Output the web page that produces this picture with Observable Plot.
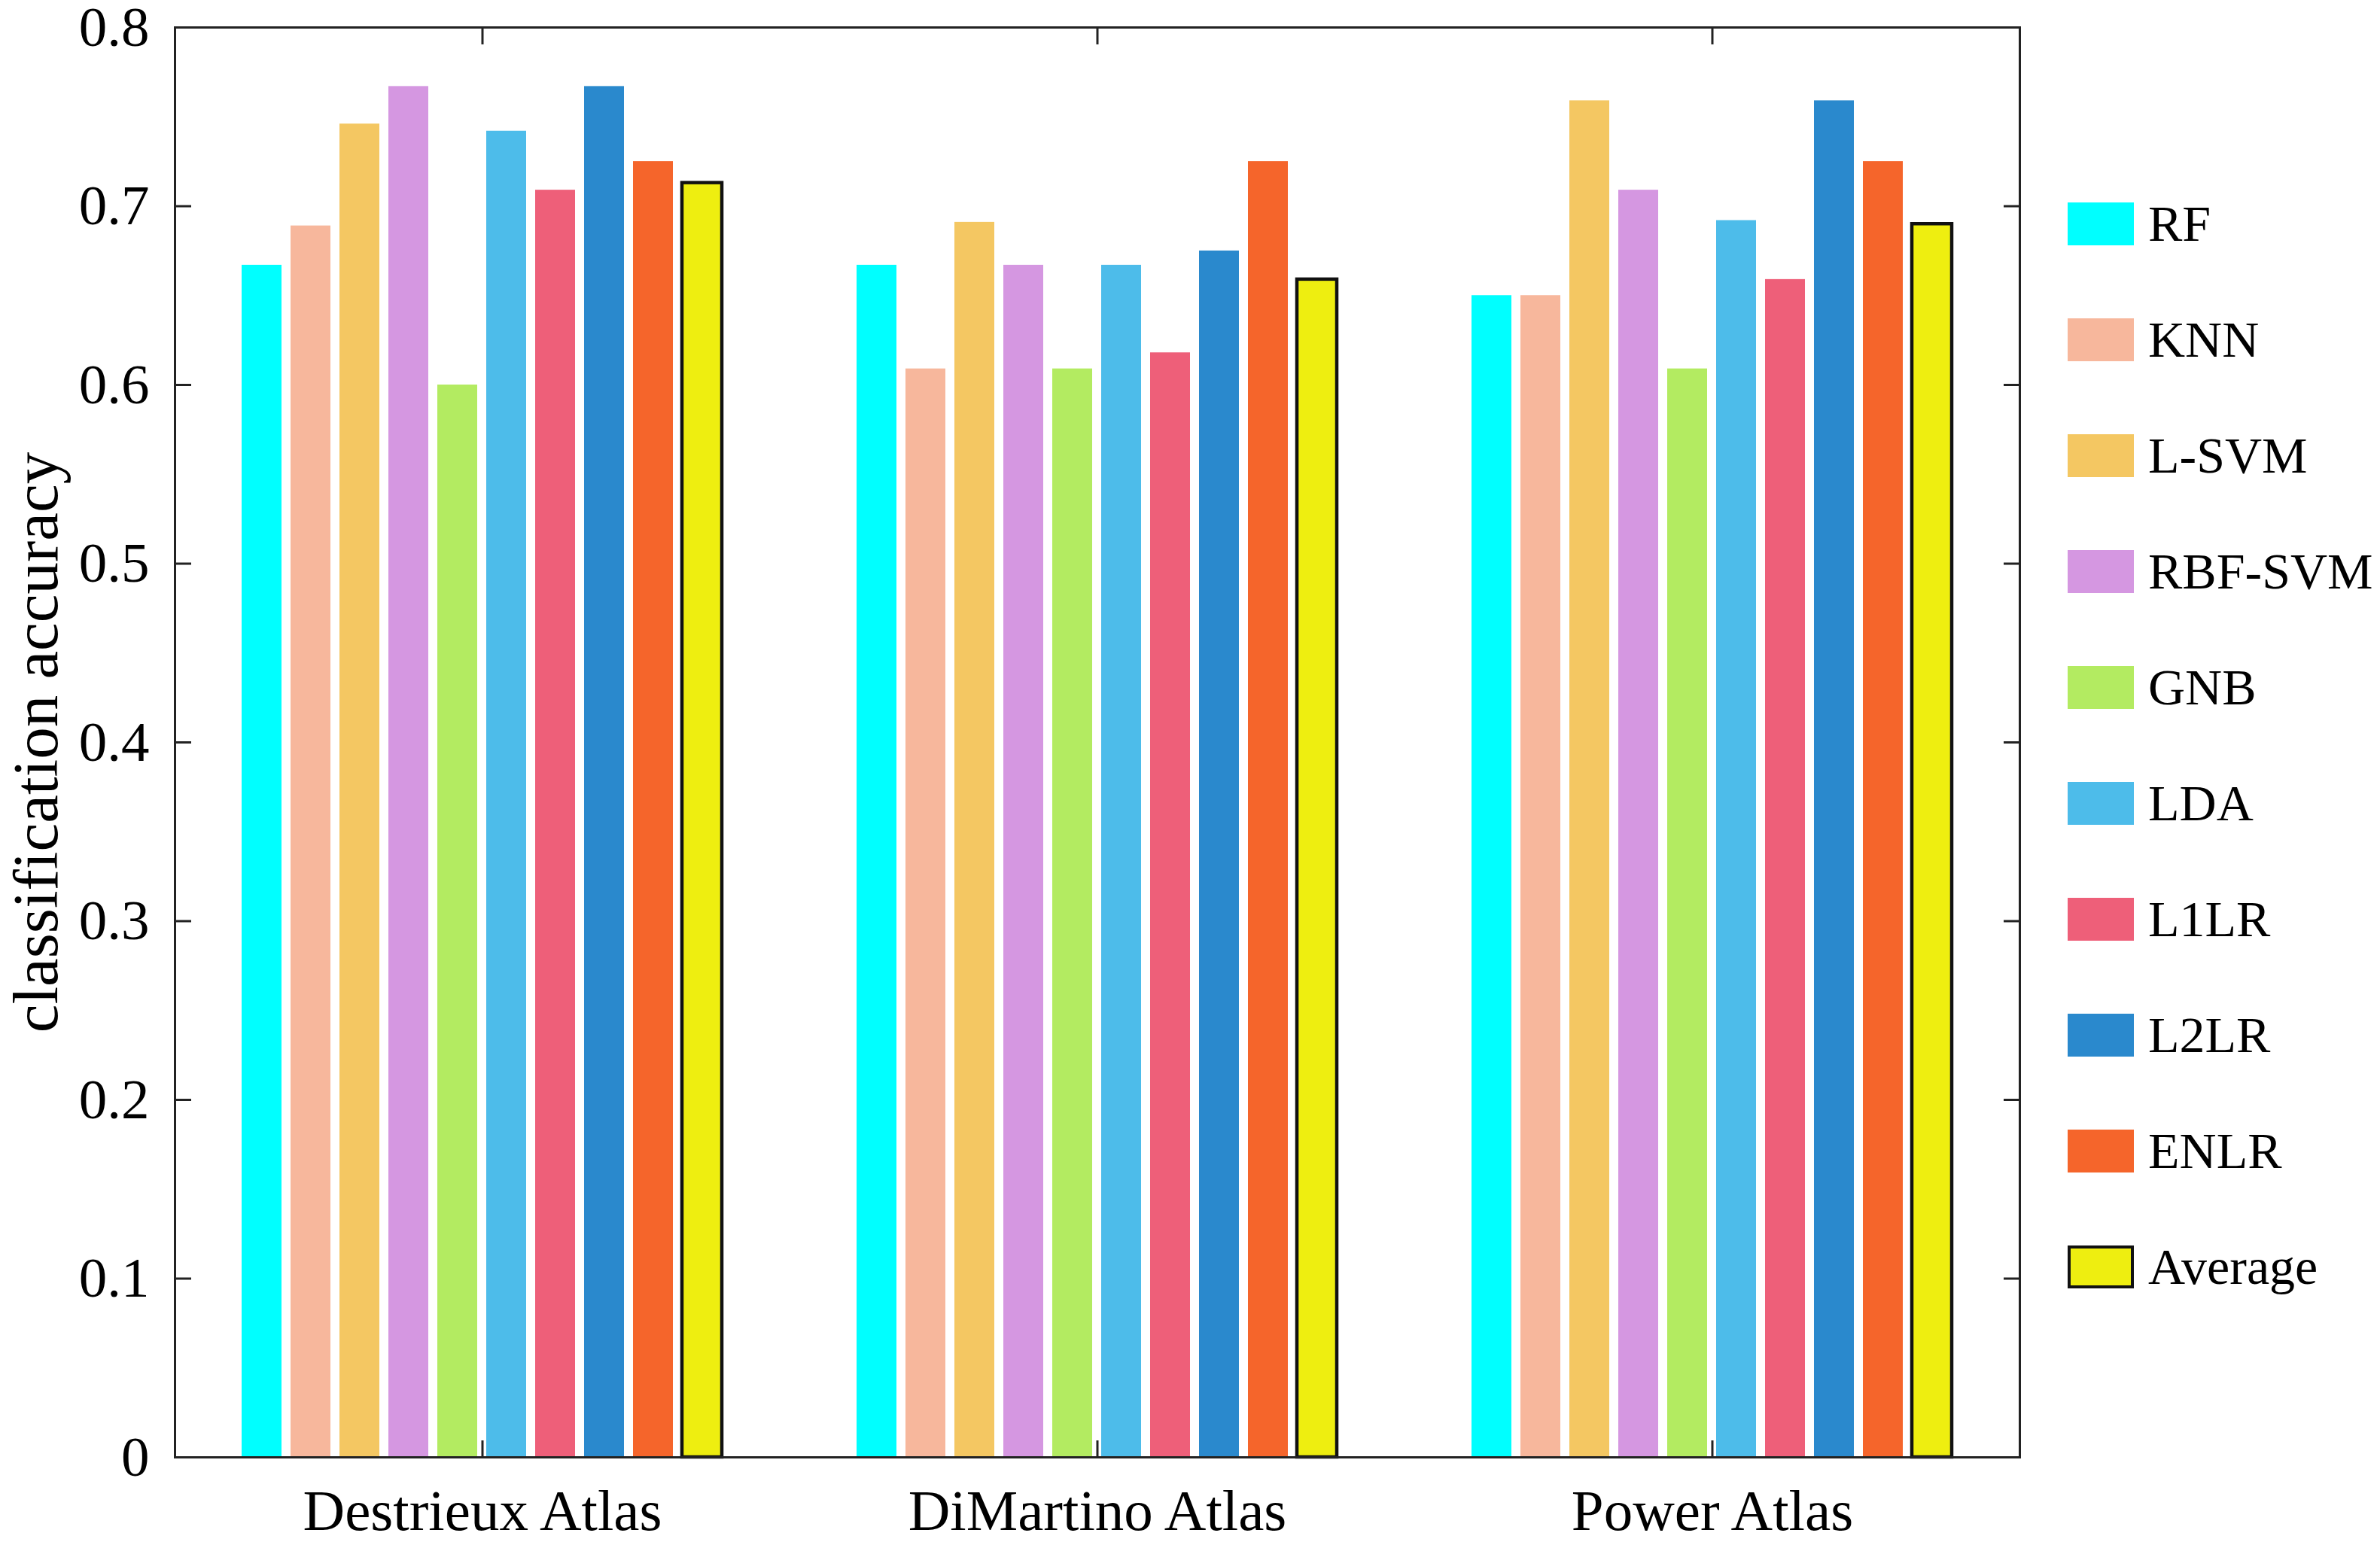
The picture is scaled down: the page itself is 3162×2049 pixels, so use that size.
<!DOCTYPE html>
<html><head><meta charset="utf-8">
<script src="https://cdn.jsdelivr.net/npm/d3@7"></script>
<script src="https://cdn.jsdelivr.net/npm/@observablehq/plot@0.6"></script>
<style>
html,body{margin:0;padding:0;background:#fff;}
#wrap{position:relative;width:3162px;height:2049px;font-family:"Liberation Serif","Times New Roman",serif;overflow:hidden;}
#chart{position:absolute;left:0;top:0;}
#legend{position:absolute;left:2747px;top:220px;}
.item{display:flex;align-items:center;height:154px;}
.sw{width:88px;height:57px;box-sizing:border-box;}
.lab{margin-left:19px;font-size:68px;color:#000;line-height:1;white-space:nowrap;}
</style></head><body><div id="wrap"><div id="chart"></div><div id="legend"></div></div>
<script>
const atlases = ["Destrieux Atlas", "DiMartino Atlas", "Power Atlas"];
const methods = ["RF", "KNN", "L-SVM", "RBF-SVM", "GNB", "LDA", "L1LR", "L2LR", "ENLR", "Average"];
const colors = ["#00FFFF", "#F7B79C", "#F4C762", "#D597E1", "#B3EB61", "#4DBCEA", "#EE5F79", "#2A89CD", "#F5652B", "#EEEE10"];
const destrieux = [0.667, 0.689, 0.746, 0.767, 0.600, 0.742, 0.709, 0.767, 0.725, 0.713];
const dimartino = [0.667, 0.609, 0.691, 0.667, 0.609, 0.667, 0.618, 0.675, 0.725, 0.659];
const power = [0.650, 0.650, 0.759, 0.709, 0.609, 0.692, 0.659, 0.759, 0.725, 0.690];
const yTicks = [0, 0.1, 0.2, 0.3, 0.4, 0.5, 0.6, 0.7, 0.8];
const yLabel = "classification accuracy";

const series = [destrieux, dimartino, power];
const data = [];
atlases.forEach((a, i) => methods.forEach((m, j) => data.push({atlas: a, method: m, value: series[i][j]})));
const avgRows = data.filter(d => d.method === "Average");

const font = '"Liberation Serif","Times New Roman",serif';
const frameStroke = "#222";
const chart = Plot.plot({
  width: 3162, height: 2049,
  marginLeft: 232, marginRight: 479, marginTop: 36, marginBottom: 113,
  style: {fontFamily: font, background: "white", color: "black", overflow: "visible"},
  fx: {domain: atlases, padding: 0, label: null, axis: null},
  x: {domain: methods, paddingInner: 0.18, paddingOuter: 1.31, axis: null},
  y: {domain: [0, 0.8], axis: null},
  color: {domain: methods, range: colors},
  marks: [
    Plot.barY(data, {fx: "atlas", x: "method", y: "value", fill: "method"}),
    Plot.barY(avgRows, {fx: "atlas", x: "method", y: "value", fill: "method", stroke: "#111", strokeWidth: 4.5}),
    Plot.ruleY([0, 0.8], {stroke: frameStroke, strokeWidth: 3}),
    Plot.frame({anchor: "left", facetAnchor: "left", stroke: frameStroke, strokeWidth: 3}),
    Plot.frame({anchor: "right", facetAnchor: "right", stroke: frameStroke, strokeWidth: 3}),
    Plot.axisY(yTicks, {anchor: "left", tickSize: 0, tickPadding: 34, tickFormat: d => String(d), fontSize: 75, label: null}),
    Plot.axisY(yTicks, {anchor: "left", tickSize: -22, fill: "none", stroke: frameStroke, strokeWidth: 3, label: null}),
    Plot.axisY(yTicks, {anchor: "right", tickSize: -22, fill: "none", stroke: frameStroke, strokeWidth: 3, label: null}),
    Plot.axisFx({anchor: "bottom", tickSize: 0, tickPadding: 42, fontSize: 77, label: null}),
    Plot.axisFx({anchor: "bottom", tickSize: -22, fill: "none", stroke: frameStroke, strokeWidth: 3, label: null}),
    Plot.axisFx({anchor: "top", tickSize: -22, fill: "none", stroke: frameStroke, strokeWidth: 3, label: null}),
    Plot.text([{atlas: atlases[0], t: yLabel}], {fx: "atlas", text: "t", frameAnchor: "left", rotate: -90, dx: -157, lineAnchor: "bottom", textAnchor: "middle", fontSize: 85})
  ]
});
document.getElementById("chart").appendChild(chart);

const legend = document.getElementById("legend");
methods.forEach((m, i) => {
  const item = document.createElement("div");
  item.className = "item";
  const sw = document.createElement("div");
  sw.className = "sw";
  sw.style.background = colors[i];
  if (m === "Average") sw.style.border = "4px solid #111";
  const lab = document.createElement("div");
  lab.className = "lab";
  lab.textContent = m;
  item.appendChild(sw); item.appendChild(lab);
  legend.appendChild(item);
});
</script></body></html>
